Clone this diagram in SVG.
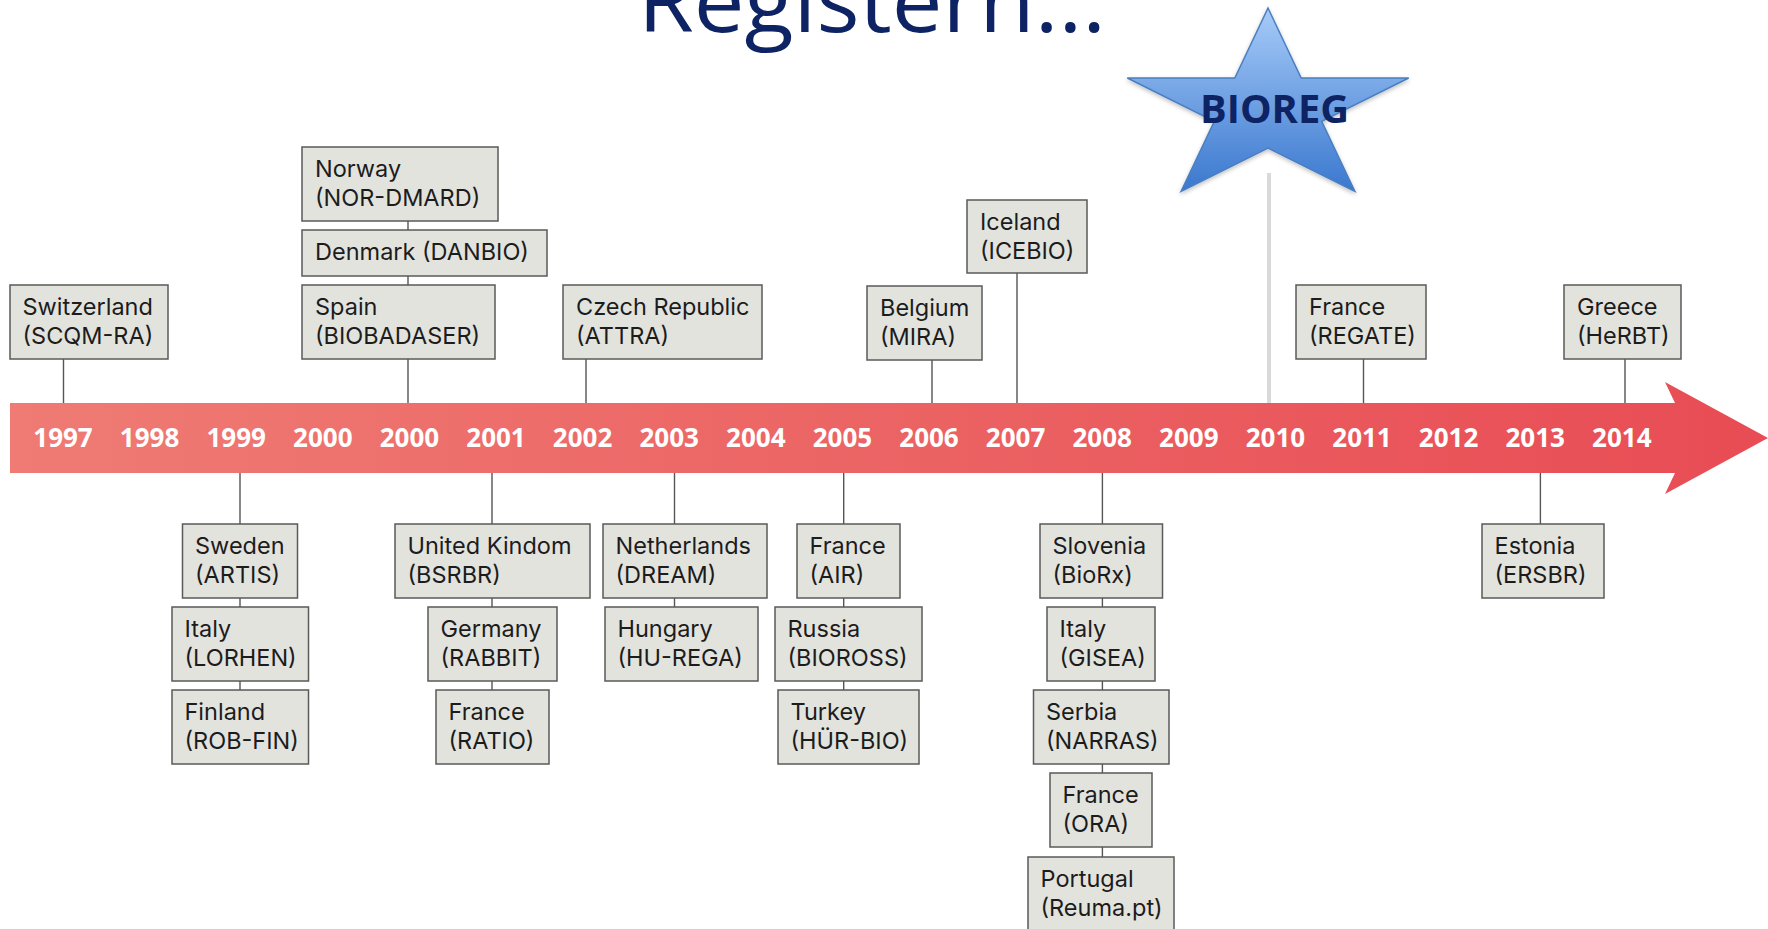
<svg xmlns="http://www.w3.org/2000/svg" width="1768" height="929" viewBox="0 0 1768 929">
<style>
.box{fill:#e3e3de;stroke:#5a5a5a;stroke-width:1.5}
.lbl{font-family:Inter,"Open Sans","Liberation Sans",sans-serif;font-size:23.5px;fill:#1c1c1c}
.yr{font-family:"Open Sans","Liberation Sans",sans-serif;font-size:26px;font-weight:bold;fill:#ffffff;text-anchor:middle}
.conn line{stroke:#555555;stroke-width:1.4}
</style>
<defs>
<linearGradient id="band" x1="0" y1="0" x2="1" y2="0">
<stop offset="0" stop-color="#ef7b74"/>
<stop offset="1" stop-color="#e84c54"/>
</linearGradient>
<linearGradient id="star" x1="0" y1="0" x2="0" y2="1">
<stop offset="0" stop-color="#a6cbf8"/>
<stop offset="1" stop-color="#3b78cf"/>
</linearGradient>
<filter id="sh" x="-10%" y="-10%" width="120%" height="130%">
<feDropShadow dx="0" dy="2" stdDeviation="2" flood-color="#000" flood-opacity="0.25"/>
</filter>
</defs>
<rect width="1768" height="929" fill="#ffffff"/>
<text id="title" x="638" y="32" font-family="'Open Sans','Liberation Sans',sans-serif" font-size="86" fill="#0d2363" textLength="468" lengthAdjust="spacingAndGlyphs">Registern...</text>

<g class="conn" id="connectors">
<line x1="63.5" y1="359" x2="63.5" y2="403"/>
<line x1="408" y1="221" x2="408" y2="230"/>
<line x1="408" y1="276" x2="408" y2="285"/>
<line x1="408" y1="359" x2="408" y2="403"/>
<line x1="586" y1="359" x2="586" y2="403"/>
<line x1="932" y1="360" x2="932" y2="403"/>
<line x1="1017" y1="273" x2="1017" y2="403"/>
<line x1="1363.5" y1="359" x2="1363.5" y2="403"/>
<line x1="1625" y1="359" x2="1625" y2="403"/>
<line x1="240" y1="473" x2="240" y2="524"/>
<line x1="240" y1="598" x2="240" y2="607"/>
<line x1="240" y1="681" x2="240" y2="690"/>
<line x1="492" y1="473" x2="492" y2="524"/>
<line x1="492" y1="598" x2="492" y2="607"/>
<line x1="492" y1="681" x2="492" y2="690"/>
<line x1="674.5" y1="473" x2="674.5" y2="524"/>
<line x1="674.5" y1="598" x2="674.5" y2="607"/>
<line x1="843.7" y1="473" x2="843.7" y2="524"/>
<line x1="843.7" y1="598" x2="843.7" y2="607"/>
<line x1="843.7" y1="681" x2="843.7" y2="690"/>
<line x1="1102.4" y1="473" x2="1102.4" y2="524"/>
<line x1="1102.4" y1="598" x2="1102.4" y2="607"/>
<line x1="1102.4" y1="681" x2="1102.4" y2="690"/>
<line x1="1102.4" y1="764" x2="1102.4" y2="773"/>
<line x1="1102.4" y1="847" x2="1102.4" y2="857"/>
<line x1="1540.4" y1="473" x2="1540.4" y2="524"/>
<line x1="1269" y1="173" x2="1269" y2="405" style="stroke:#d9d9d9;stroke-width:4"/>
</g>

<g id="timeline">
<polygon points="10,403 1675,403 1665,382 1768,438 1665,494 1675,473 10,473" fill="url(#band)"/>
<text class="yr" x="63" y="447">1997</text>
<text class="yr" x="149.6" y="447">1998</text>
<text class="yr" x="236.2" y="447">1999</text>
<text class="yr" x="322.8" y="447">2000</text>
<text class="yr" x="409.4" y="447">2000</text>
<text class="yr" x="496" y="447">2001</text>
<text class="yr" x="582.6" y="447">2002</text>
<text class="yr" x="669.2" y="447">2003</text>
<text class="yr" x="755.8" y="447">2004</text>
<text class="yr" x="842.4" y="447">2005</text>
<text class="yr" x="929" y="447">2006</text>
<text class="yr" x="1015.6" y="447">2007</text>
<text class="yr" x="1102.2" y="447">2008</text>
<text class="yr" x="1188.8" y="447">2009</text>
<text class="yr" x="1275.4" y="447">2010</text>
<text class="yr" x="1362" y="447">2011</text>
<text class="yr" x="1448.6" y="447">2012</text>
<text class="yr" x="1535.2" y="447">2013</text>
<text class="yr" x="1621.8" y="447">2014</text>
</g>

<g id="bioreg">
<polygon points="1268,8 1301.2,78 1408.7,78 1321.7,121.3 1354.9,191.3 1268,148 1181.1,191.3 1214.3,121.3 1127.3,78 1234.8,78" fill="url(#star)" stroke="#4a7fc0" stroke-width="1.5" filter="url(#sh)"/>
<text x="1274.5" y="123" text-anchor="middle" font-family="'Open Sans','Liberation Sans',sans-serif" font-size="40" font-weight="bold" fill="#0d2363" textLength="149" lengthAdjust="spacingAndGlyphs">BIOREG</text>
</g>

<g id="switzerland"><rect class="box" x="10" y="285" width="158" height="74"/><text class="lbl" x="22.5" y="315">Switzerland</text><text class="lbl" x="22.5" y="343.7">(SCQM-RA)</text></g>
<g id="norway"><rect class="box" x="302" y="147" width="196" height="74"/><text class="lbl" x="315" y="177">Norway</text><text class="lbl" x="315" y="205.7">(NOR-DMARD)</text></g>
<g id="denmark"><rect class="box" x="302" y="230" width="245" height="46"/><text class="lbl" x="315" y="260">Denmark (DANBIO)</text></g>
<g id="spain"><rect class="box" x="302" y="285" width="193" height="74"/><text class="lbl" x="315" y="315">Spain</text><text class="lbl" x="315" y="343.7">(BIOBADASER)</text></g>
<g id="czech"><rect class="box" x="563" y="285" width="199" height="74"/><text class="lbl" x="576" y="315">Czech Republic</text><text class="lbl" x="576" y="343.7">(ATTRA)</text></g>
<g id="belgium"><rect class="box" x="867" y="286" width="115" height="74"/><text class="lbl" x="880" y="316">Belgium</text><text class="lbl" x="880" y="344.7">(MIRA)</text></g>
<g id="iceland"><rect class="box" x="967" y="200" width="120" height="73"/><text class="lbl" x="980" y="230">Iceland</text><text class="lbl" x="980" y="258.7">(ICEBIO)</text></g>
<g id="france-regate"><rect class="box" x="1296" y="285" width="130" height="74"/><text class="lbl" x="1309" y="315">France</text><text class="lbl" x="1309" y="343.7">(REGATE)</text></g>
<g id="greece"><rect class="box" x="1564" y="285" width="117" height="74"/><text class="lbl" x="1577" y="315">Greece</text><text class="lbl" x="1577" y="343.7">(HeRBT)</text></g>

<g id="sweden"><rect class="box" x="182.5" y="524" width="115" height="74"/><text class="lbl" x="195" y="554">Sweden</text><text class="lbl" x="195" y="582.7">(ARTIS)</text></g>
<g id="italy-lorhen"><rect class="box" x="172" y="607" width="136.5" height="74"/><text class="lbl" x="184.5" y="637">Italy</text><text class="lbl" x="184.5" y="665.7">(LORHEN)</text></g>
<g id="finland"><rect class="box" x="172" y="690" width="136.5" height="74"/><text class="lbl" x="184.5" y="720">Finland</text><text class="lbl" x="184.5" y="748.7">(ROB-FIN)</text></g>
<g id="uk"><rect class="box" x="395" y="524" width="195" height="74"/><text class="lbl" x="407.5" y="554">United Kindom</text><text class="lbl" x="407.5" y="582.7">(BSRBR)</text></g>
<g id="germany"><rect class="box" x="428" y="607" width="129" height="74"/><text class="lbl" x="440.5" y="637">Germany</text><text class="lbl" x="440.5" y="665.7">(RABBIT)</text></g>
<g id="france-ratio"><rect class="box" x="436" y="690" width="113" height="74"/><text class="lbl" x="448.5" y="720">France</text><text class="lbl" x="448.5" y="748.7">(RATIO)</text></g>
<g id="netherlands"><rect class="box" x="603" y="524" width="164" height="74"/><text class="lbl" x="615.5" y="554">Netherlands</text><text class="lbl" x="615.5" y="582.7">(DREAM)</text></g>
<g id="hungary"><rect class="box" x="605" y="607" width="153" height="74"/><text class="lbl" x="617.5" y="637">Hungary</text><text class="lbl" x="617.5" y="665.7">(HU-REGA)</text></g>
<g id="france-air"><rect class="box" x="797" y="524" width="103" height="74"/><text class="lbl" x="809.5" y="554">France</text><text class="lbl" x="809.5" y="582.7">(AIR)</text></g>
<g id="russia"><rect class="box" x="775" y="607" width="147" height="74"/><text class="lbl" x="787.5" y="637">Russia</text><text class="lbl" x="787.5" y="665.7">(BIOROSS)</text></g>
<g id="turkey"><rect class="box" x="778" y="690" width="141" height="74"/><text class="lbl" x="790.5" y="720">Turkey</text><text class="lbl" x="790.5" y="748.7">(HÜR-BIO)</text></g>
<g id="slovenia"><rect class="box" x="1040" y="524" width="122.5" height="74"/><text class="lbl" x="1052.5" y="554">Slovenia</text><text class="lbl" x="1052.5" y="582.7">(BioRx)</text></g>
<g id="italy-gisea"><rect class="box" x="1047" y="607" width="108" height="74"/><text class="lbl" x="1059.5" y="637">Italy</text><text class="lbl" x="1059.5" y="665.7">(GISEA)</text></g>
<g id="serbia"><rect class="box" x="1033.5" y="690" width="135.5" height="74"/><text class="lbl" x="1046" y="720">Serbia</text><text class="lbl" x="1046" y="748.7">(NARRAS)</text></g>
<g id="france-ora"><rect class="box" x="1050" y="773" width="102" height="74"/><text class="lbl" x="1062.5" y="803">France</text><text class="lbl" x="1062.5" y="831.7">(ORA)</text></g>
<g id="portugal"><rect class="box" x="1028" y="857" width="146" height="74"/><text class="lbl" x="1040.5" y="887">Portugal</text><text class="lbl" x="1040.5" y="915.7">(Reuma.pt)</text></g>
<g id="estonia"><rect class="box" x="1482" y="524" width="122" height="74"/><text class="lbl" x="1494.5" y="554">Estonia</text><text class="lbl" x="1494.5" y="582.7">(ERSBR)</text></g>
</svg>
